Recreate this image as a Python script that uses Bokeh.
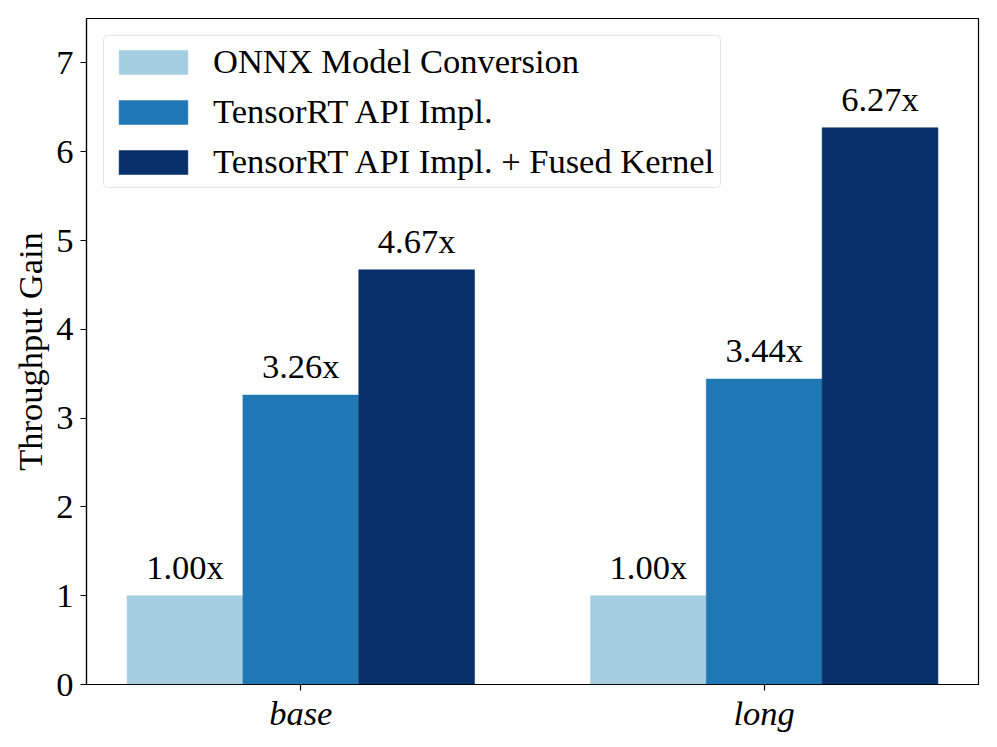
import numpy as np
from bokeh.plotting import figure
from bokeh.models import ColumnDataSource, LabelSet, Range1d, FixedTicker, Legend, LegendItem
from bokeh.embed import file_html
from bokeh.resources import INLINE

categories = ["base", "long"]
series_names = ["ONNX Model Conversion", "TensorRT API Impl.", "TensorRT API Impl. + Fused Kernel"]
onnx = [1.00, 1.00]
trt_api = [3.26, 3.44]
trt_fused = [4.67, 6.27]
colors = ["#a6cee3", "#1f78b4", "#08306b"]
y_ticks = [0, 1, 2, 3, 4, 5, 6, 7]

FONT = "Liberation Serif"
FS = "34.5px"
bar_w = 0.25

p = figure(frame_width=892, frame_height=666, output_backend="svg", toolbar_location=None,
           x_range=Range1d(-0.4625, 1.4625), y_range=Range1d(0, 7.5),
           min_border_left=86, min_border_top=18, min_border_right=3, min_border_bottom=45)

items = []
for i, (name, vals) in enumerate(zip(series_names, [onnx, trt_api, trt_fused])):
    xs = np.arange(len(categories)) + (i - 1) * bar_w
    src = ColumnDataSource(dict(x=xs, top=vals, lab=[f"{v:.2f}x" for v in vals]))
    r = p.vbar(x="x", top="top", width=bar_w, bottom=0, source=src,
               fill_color=colors[i], line_color=colors[i], line_width=0.5)
    items.append(LegendItem(label=name, renderers=[r]))
    labels = LabelSet(x="x", y="top", text="lab", source=src, text_align="center",
                      text_baseline="alphabetic", y_offset=17, text_font=FONT,
                      text_font_size=FS, text_color="black")
    p.add_layout(labels)

legend = Legend(items=items, location="top_left", margin=17, padding=6, spacing=11,
                glyph_width=86, glyph_height=30, label_standoff=17,
                label_text_font=FONT, label_text_font_size=FS, label_text_color="black",
                border_line_color="#d0d0d0", border_line_width=1.2,
                background_fill_color="white", background_fill_alpha=0.8)
try:
    legend.border_radius = 5
except Exception:
    pass
p.add_layout(legend)

p.xgrid.visible = False
p.ygrid.visible = False
p.outline_line_color = "black"
p.outline_line_width = 1.2

p.xaxis.ticker = FixedTicker(ticks=list(range(len(categories))))
p.xaxis.major_label_overrides = {i: c for i, c in enumerate(categories)}
p.xaxis.major_label_text_font_style = "italic"
p.yaxis.ticker = FixedTicker(ticks=y_ticks)
p.yaxis.axis_label = "Throughput Gain"

for ax in (p.xaxis, p.yaxis):
    ax.axis_line_color = "black"
    ax.axis_line_width = 1.2
    ax.major_tick_line_color = "black"
    ax.major_tick_line_width = 1.2
    ax.major_tick_in = 0
    ax.major_tick_out = 6
    ax.minor_tick_line_color = None
    ax.major_label_text_font = FONT
    ax.major_label_text_font_size = FS
    ax.major_label_text_color = "black"
    ax.axis_label_text_font = FONT
    ax.axis_label_text_font_size = FS
    ax.axis_label_text_font_style = "normal"
    ax.axis_label_text_color = "black"
p.yaxis.major_label_standoff = 7
p.xaxis.major_label_standoff = 3
p.yaxis.axis_label_standoff = 4

open("out.html", "w").write(file_html(p, INLINE))
